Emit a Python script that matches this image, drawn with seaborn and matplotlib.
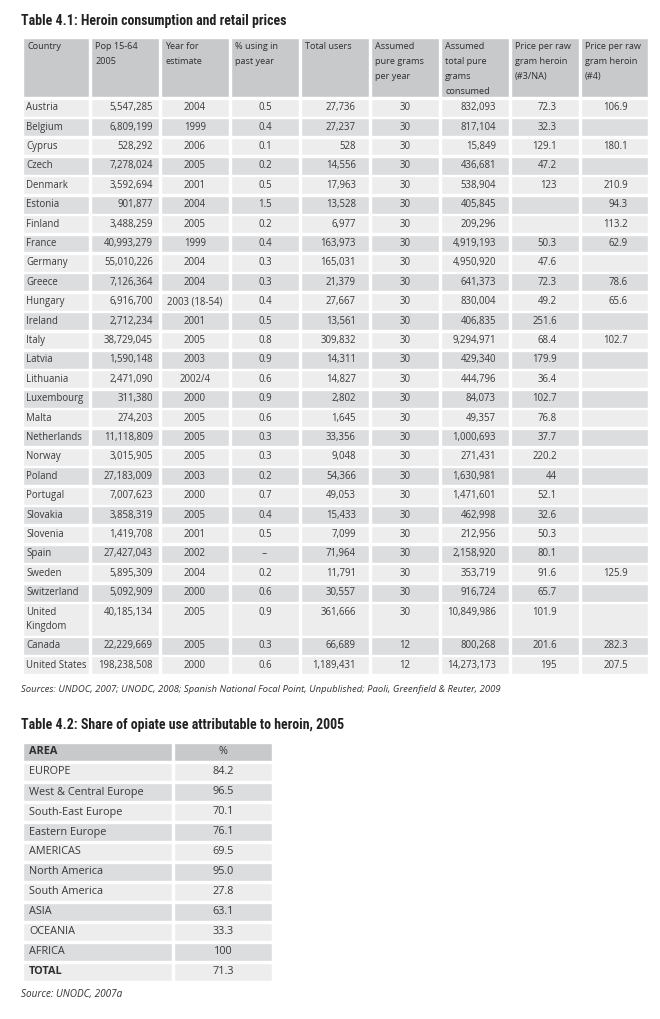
import numpy as np
import pandas as pd
import matplotlib.pyplot as plt
import seaborn as sns
from matplotlib import font_manager

# --- Table 4.1: Heroin consumption and retail prices ---
headers_41 = ["Country", "Pop 15-64\n2005", "Year for\nestimate", "% using in\npast year",
              "Total users", "Assumed\npure grams\nper year", "Assumed\ntotal pure\ngrams\nconsumed",
              "Price per raw\ngram heroin\n(#3/NA)", "Price per raw\ngram heroin\n(#4)"]
countries = ["Austria", "Belgium", "Cyprus", "Czech", "Denmark", "Estonia", "Finland", "France",
             "Germany", "Greece", "Hungary", "Ireland", "Italy", "Latvia", "Lithuania",
             "Luxembourg", "Malta", "Netherlands", "Norway", "Poland", "Portugal", "Slovakia",
             "Slovenia", "Spain", "Sweden", "Switzerland", "United\nKingdom", "Canada",
             "United States"]
pop_15_64 = [5547285, 6809199, 528292, 7278024, 3592694, 901877, 3488259, 40993279, 55010226,
             7126364, 6916700, 2712234, 38729045, 1590148, 2471090, 311380, 274203, 11118809,
             3015905, 27183009, 7007623, 3858319, 1419708, 27427043, 5895309, 5092909,
             40185134, 22229669, 198238508]
year_estimate = ["2004", "1999", "2006", "2005", "2001", "2004", "2005", "1999", "2004", "2004",
                 "2003 (18-54)", "2001", "2005", "2003", "2002/4", "2000", "2005", "2005", "2005",
                 "2003", "2000", "2005", "2001", "2002", "2004", "2000", "2005", "2005", "2000"]
pct_past_year = ["0.5", "0.4", "0.1", "0.2", "0.5", "1.5", "0.2", "0.4", "0.3", "0.3", "0.4",
                 "0.5", "0.8", "0.9", "0.6", "0.9", "0.6", "0.3", "0.3", "0.2", "0.7", "0.4",
                 "0.5", "--", "0.2", "0.6", "0.9", "0.3", "0.6"]
total_users = [27736, 27237, 528, 14556, 17963, 13528, 6977, 163973, 165031, 21379, 27667, 13561,
               309832, 14311, 14827, 2802, 1645, 33356, 9048, 54366, 49053, 15433, 7099, 71964,
               11791, 30557, 361666, 66689, 1189431]
grams_per_year = [30, 30, 30, 30, 30, 30, 30, 30, 30, 30, 30, 30, 30, 30, 30, 30, 30, 30, 30, 30,
                  30, 30, 30, 30, 30, 30, 30, 12, 12]
total_grams = [832093, 817104, 15849, 436681, 538904, 405845, 209296, 4919193, 4950920, 641373,
               830004, 406835, 9294971, 429340, 444796, 84073, 49357, 1000693, 271431, 1630981,
               1471601, 462998, 212956, 2158920, 353719, 916724, 10849986, 800268, 14273173]
price_na = ["72.3", "32.3", "129.1", "47.2", "123", "", "", "50.3", "47.6", "72.3", "49.2",
            "251.6", "68.4", "179.9", "36.4", "102.7", "76.8", "37.7", "220.2", "44", "52.1",
            "32.6", "50.3", "80.1", "91.6", "65.7", "101.9", "201.6", "195"]
price_4 = ["106.9", "", "180.1", "", "210.9", "94.3", "113.2", "62.9", "", "78.6", "65.6", "",
           "102.7", "", "", "", "", "", "", "", "", "", "", "", "125.9", "", "", "282.3", "207.5"]

# --- Table 4.2: Share of opiate use attributable to heroin ---
headers_42 = ["AREA", "%"]
areas = ["EUROPE", "West & Central Europe", "South-East Europe", "Eastern Europe", "AMERICAS",
         "North America", "South America", "ASIA", "OCEANIA", "AFRICA", "TOTAL"]
heroin_share = ["84.2", "96.5", "70.1", "76.1", "69.5", "95.0", "27.8", "63.1", "33.3", "100",
                "71.3"]

title_41 = "Table 4.1: Heroin consumption and retail prices"
source_41 = ("Sources: UNDOC, 2007; UNODC, 2008; Spanish National Focal Point, Unpublished; "
             "Paoli, Greenfield & Reuter, 2009")
title_42 = "Table 4.2: Share of opiate use attributable to heroin, 2005"
source_42 = "Source: UNODC, 2007a"

sns.set_theme(style="white")
installed = {f.name for f in font_manager.fontManager.ttflist}
body_font = "Open Sans" if "Open Sans" in installed else "DejaVu Sans"
title_font = body_font
for cand in ["Liberation Sans Narrow", "DejaVu Sans Condensed", "Roboto Condensed", "Roboto"]:
    if cand in installed:
        title_font = cand
        break
plt.rcParams["font.family"] = [body_font, "DejaVu Sans"]

HEAD_C = "#c8c9cb"
DARK_C = "#dcdddf"
LIGHT_C = "#ededee"
TXT = "#3a3a3a"

fig = plt.figure(figsize=(6.6, 10.19), dpi=100)
ax = fig.add_axes([0, 0, 1, 1])
ax.set_xlim(0, 660)
ax.set_ylim(1019, 0)
ax.axis("off")

# ---------- table 4.1 ----------
edges = np.array([22, 90, 160, 230, 300, 370, 440, 510, 580, 649])
lefts = edges[:-1] + 1
widths = np.diff(edges) - 2
head_top, head_bot = 37, 98
row_h, line_gap = 19.4, 14.5

ax.text(21, 21, title_41, fontsize=10, fontweight="bold", family=title_font,
        color="#222222", va="center", ha="left")

ax.barh(y=[(head_top + head_bot) / 2] * len(lefts), width=widths, left=lefts,
        height=head_bot - head_top - 1.5, color=HEAD_C, align="center")
for j, h in enumerate(headers_41):
    for k, line in enumerate(h.split("\n")):
        ax.text(edges[j] + 5, head_top + 9.5 + 15 * k, line, fontsize=6.6, color="#2e2e2e",
                va="center", ha="left")

table = pd.DataFrame({
    "country": countries,
    "pop": [f"{v:,}" for v in pop_15_64],
    "year": year_estimate,
    "pct": pct_past_year,
    "users": [f"{v:,}" for v in total_users],
    "gpy": [str(v) for v in grams_per_year],
    "total": [f"{v:,}" for v in total_grams],
    "p3": price_na,
    "p4": price_4,
})
# anchor (offset from col left or right) and alignment per column
col_align = [("left", 4), ("right", 7), ("center", 0), ("center", 0), ("right", 14),
             ("center", 0), ("right", 14), ("right", 23), ("right", 21)]

y = head_bot
for i, row in table.iterrows():
    nlines = row["country"].count("\n") + 1
    h = row_h + (nlines - 1) * line_gap
    color = LIGHT_C if i % 2 == 0 else DARK_C
    ax.barh(y=[y + h / 2] * len(lefts), width=widths, left=lefts, height=h - 1.5,
            color=color, align="center")
    for j, val in enumerate(row.values):
        align, pad = col_align[j]
        if align == "left":
            x = edges[j] + pad
        elif align == "right":
            x = edges[j + 1] - pad
        else:
            x = (edges[j] + edges[j + 1]) / 2
        for k, line in enumerate(str(val).split("\n")):
            ax.text(x, y + row_h / 2 + k * line_gap, line, fontsize=6.9, color=TXT,
                    va="center", ha=align)
    y += h

ax.text(21, 689, source_41, fontsize=6.8, style="italic", color="#333333",
        va="center", ha="left")

# ---------- table 4.2 ----------
edges2 = np.array([22, 173, 273])
lefts2 = edges2[:-1] + 1
widths2 = np.diff(edges2) - 2
top2, row_h2 = 742, 20

ax.text(21, 725, title_42, fontsize=10, fontweight="bold", family=title_font,
        color="#222222", va="center", ha="left")

rows2 = [headers_42] + [[a, s] for a, s in zip(areas, heroin_share)]
for i, (area, share) in enumerate(rows2):
    yc = top2 + i * row_h2 + row_h2 / 2
    if i == 0:
        color = HEAD_C
    else:
        color = LIGHT_C if i % 2 == 1 else DARK_C
    ax.barh(y=[yc, yc], width=widths2, left=lefts2, height=row_h2 - 1.5, color=color,
            align="center")
    bold = i == 0 or area == "TOTAL"
    ax.text(edges2[0] + 7, yc, area, fontsize=7.8, color="#2e2e2e" if bold else TXT,
            fontweight="bold" if bold else "normal", va="center", ha="left")
    ax.text((edges2[1] + edges2[2]) / 2, yc, share, fontsize=7.8, color=TXT,
            va="center", ha="center")

ax.text(21, 995, source_42, fontsize=7.2, style="italic", color="#333333",
        va="center", ha="left")

fig.savefig("out.png", dpi=100)
